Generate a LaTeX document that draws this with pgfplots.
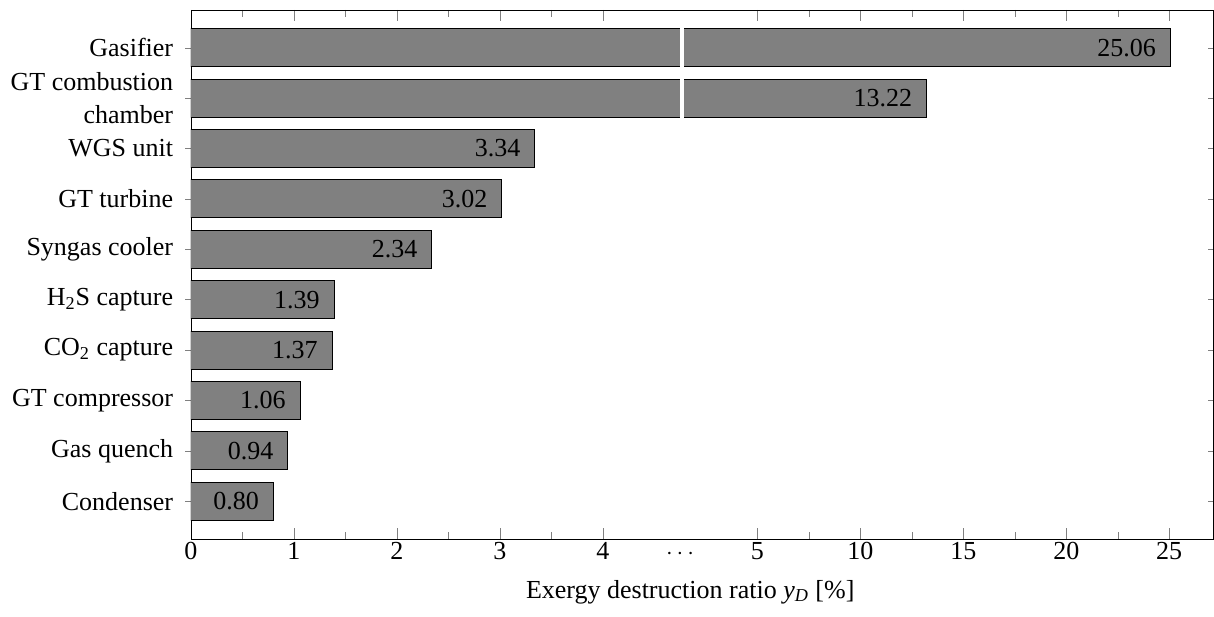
\documentclass[border=0pt]{standalone}
\usepackage{pgfplots}
\pgfplotsset{compat=1.18}
\usepackage{pgfplotstable}
\usepackage{fontspec}
\setmainfont{Liberation Serif}

% y = row (0 = top), v = exergy destruction ratio [%]
\pgfplotstableread{
y v
0 25.06
1 13.22
2 3.34
3 3.02
4 2.34
5 1.39
6 1.37
7 1.06
8 0.94
9 0.80
}\datatable

\begin{document}
\begin{tikzpicture}[font=\fontsize{13}{16.25}\selectfont]
\begin{axis}[
  scale only axis, width=511.25pt, height=264.5pt,
  xmin=0, xmax=9.93, ymin=-0.75, ymax=9.75, y dir=reverse,
  xbar, bar width=0.755,
  xtick align=inside, ytick align=center,
  major tick length=5.5pt, minor tick length=3.5pt,
  xtick={0,1,2,3,4,5.5,6.5,7.5,8.5,9.5},
  xticklabels={0,1,2,3,4,5,10,15,20,25},
  minor xtick={0.5,1.5,2.5,3.5,6,7,8,9},
  extra x ticks={4.75},
  extra x tick labels={$\cdots$},
  extra x tick style={major tick length=0pt},
  xticklabel style={anchor=base, yshift=-10pt},
  ytick={0,...,9},
  yticklabels={Gasifier,{GT combustion\\chamber},WGS unit,GT turbine,Syngas cooler,{H\textsubscript{2}S capture},{CO\textsubscript{2} capture},GT compressor,Gas quench,Condenser},
  yticklabel style={align=right, font=\fontsize{13}{16.25}\selectfont, inner sep=0pt, xshift=-6pt},
  xlabel={Exergy destruction ratio \textit{y}\textsubscript{\textit{D}} [\%]},
  xlabel style={at={(axis description cs:0.5,0)}, anchor=base, yshift=-29.5pt, xshift=-6pt},
  point meta=explicit symbolic,
  nodes near coords,
  every node near coord/.append style={anchor=east, inner sep=0pt, xshift=-7pt, font=\fontsize{13}{16.25}\selectfont, text=black},
]
\addplot[fill=gray, draw=black, line width=0.5pt]
  table[x expr={\thisrow{v}<=4 ? \thisrow{v} : 5.5+(\thisrow{v}-5)/5}, y=y, meta=v] {\datatable};
\draw[white, line width=1.8pt] (axis cs:4.77,-0.45) -- (axis cs:4.77,1.45);
\end{axis}
\pgfresetboundingbox
\path ([xshift=-95.5pt,yshift=-38.5pt]current axis.south west) rectangle ([xshift=0.25pt,yshift=5pt]current axis.north east);
\end{tikzpicture}
\end{document}
